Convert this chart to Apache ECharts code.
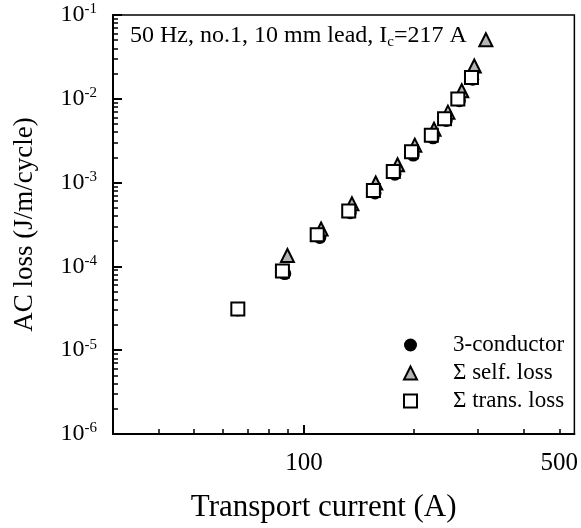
<!DOCTYPE html>
<html>
<head>
<meta charset="utf-8">
<title>AC loss</title>
<script src="https://cdn.jsdelivr.net/npm/echarts@6/dist/echarts.min.js"></script>
<style>
  html, body { margin: 0; padding: 0; background: #fff; }
  #chart { width: 581px; height: 528px; }
</style>
</head>
<body>
<div id="chart"></div>
<script>
// 3-conductor
const currentTotal = [65.9, 88.6, 110.5, 133.9, 156.5, 177.4, 199.1, 225.6, 245.2, 266.4, 289.7]
const lossTotal = [3.02e-5, 8.2e-5, 2.22e-4, 4.38e-4, 7.54e-4, 1.26e-3, 2.13e-3, 3.42e-3, 5.52e-3, 9.5e-3, 1.71e-2]
// sum of self loss
const currentSelf = [90.1, 111.4, 135.3, 157.2, 180.4, 201.1, 227, 247.8, 270.4, 292.6, 314.8]
const lossSelf = [1.35e-4, 2.79e-4, 5.6e-4, 9.89e-4, 1.63e-3, 2.8e-3, 4.33e-3, 6.93e-3, 1.25e-2, 2.46e-2, 5.07e-2]
// sum of transport loss
const currentTrans = [65.9, 87.3, 108.7, 132.6, 154.9, 175.6, 197, 223.2, 242.6, 263.8, 287.5]
const lossTrans = [3.1e-5, 8.83e-5, 2.39e-4, 4.59e-4, 8.03e-4, 1.36e-3, 2.34e-3, 3.67e-3, 5.78e-3, 9.95e-3, 1.79e-2]

const seriesNames = ['3-conductor', 'Σ self. loss', 'Σ trans. loss']

// ticks
const xLabels = [100, 500]
const xMinorTicks = [40, 50, 60, 70, 80, 90, 200, 300, 400, 500]
const yDecades = [1e-6, 1e-5, 1e-4, 1e-3, 1e-2, 1e-1]
const yMinorMult = [2, 3, 4, 5, 6, 7, 8, 9]

const font = 'Liberation Serif'

function pairs(xs, ys) {
  return xs.map((x, i) => [x, ys[i]])
}

// 2..9 inside each decade
const yMinorTicks = []
yDecades.slice(0, -1).forEach(d => {
  yMinorMult.forEach(m => yMinorTicks.push(+(d * m).toPrecision(3)))
})

const chart = echarts.init(document.getElementById('chart'))

chart.setOption({
  animation: false,
  backgroundColor: '#fff',
  textStyle: { fontFamily: font, color: '#000' },
  title: {
    left: 125,
    top: 17,
    text: '{t|50 Hz, no.1, 10 mm lead, I}{sub|c}{t|=217 A}',
    textStyle: {
      fontWeight: 'normal',
      rich: {
        t: { fontFamily: font, fontSize: 24, fontWeight: 'normal', lineHeight: 28, color: '#000' },
        sub: { fontFamily: font, fontSize: 15, fontWeight: 'normal', lineHeight: 14, verticalAlign: 'bottom', color: '#000' }
      }
    }
  },
  legend: {
    orient: 'vertical',
    left: 398,
    top: 328,
    itemWidth: 13,
    itemHeight: 13,
    itemGap: 4,
    selectedMode: false,
    data: seriesNames,
    textStyle: { fontFamily: font, fontSize: 23, lineHeight: 24, color: '#000', padding: [0, 0, 0, 31] }
  },
  grid: {
    left: 113,
    right: 3,
    top: 15,
    bottom: 89,
    show: true,
    borderColor: '#000',
    borderWidth: 1.5
  },
  xAxis: [{
    type: 'log',
    min: 30,
    max: 550,
    position: 'bottom',
    name: 'Transport current (A)',
    nameLocation: 'middle',
    nameGap: 58,
    nameTextStyle: { fontFamily: font, fontSize: 31, color: '#000', padding: [0, 40, 0, 0] },
    axisLine: { show: true, lineStyle: { color: '#000', width: 2 } },
    axisTick: { show: true, inside: true, length: 5, customValues: xMinorTicks, lineStyle: { color: '#000', width: 1.5 } },
    axisLabel: { customValues: xLabels, margin: 17, fontFamily: font, fontSize: 25, color: '#000' },
    splitLine: { show: false }
  }, {
    // longer tick at 100
    type: 'log',
    min: 30,
    max: 550,
    position: 'bottom',
    axisLine: { show: false },
    axisTick: { show: true, inside: true, length: 9, customValues: xLabels.slice(0, 1), lineStyle: { color: '#000', width: 2 } },
    axisLabel: { show: false },
    splitLine: { show: false }
  }],
  yAxis: [{
    type: 'log',
    min: 1e-6,
    max: 1e-1,
    position: 'left',
    name: 'AC loss (J/m/cycle)',
    nameLocation: 'middle',
    nameGap: 75,
    nameTextStyle: { fontFamily: font, fontSize: 27, color: '#000' },
    axisLine: { show: true, lineStyle: { color: '#000', width: 2 } },
    axisTick: { show: true, inside: true, length: 9, customValues: yDecades, lineStyle: { color: '#000', width: 2 } },
    axisLabel: {
      customValues: yDecades,
      margin: 16,
      formatter: v => '{b|10}{s|' + Math.round(Math.log10(v)) + '}',
      rich: {
        b: { fontFamily: font, fontSize: 24, lineHeight: 26, color: '#000' },
        s: { fontFamily: font, fontSize: 15, lineHeight: 14, verticalAlign: 'top', color: '#000' }
      }
    },
    splitLine: { show: false }
  }, {
    // minor ticks
    type: 'log',
    min: 1e-6,
    max: 1e-1,
    position: 'left',
    axisLine: { show: false },
    axisTick: { show: true, inside: true, length: 5, customValues: yMinorTicks, lineStyle: { color: '#000', width: 1.5 } },
    axisLabel: { show: false },
    splitLine: { show: false }
  }],
  series: [{
    name: seriesNames[0],
    type: 'scatter',
    symbol: 'circle',
    symbolSize: 13,
    itemStyle: { color: '#000', opacity: 1 },
    data: pairs(currentTotal, lossTotal)
  }, {
    name: seriesNames[1],
    type: 'scatter',
    symbol: 'triangle',
    symbolSize: 13,
    itemStyle: { color: '#b4b4b4', borderColor: '#000', borderWidth: 2, opacity: 1 },
    data: pairs(currentSelf, lossSelf)
  }, {
    name: seriesNames[2],
    type: 'scatter',
    symbol: 'rect',
    symbolSize: 13,
    itemStyle: { color: '#fff', borderColor: '#000', borderWidth: 2, opacity: 1 },
    data: pairs(currentTrans, lossTrans)
  }]
})
</script>
</body>
</html>
